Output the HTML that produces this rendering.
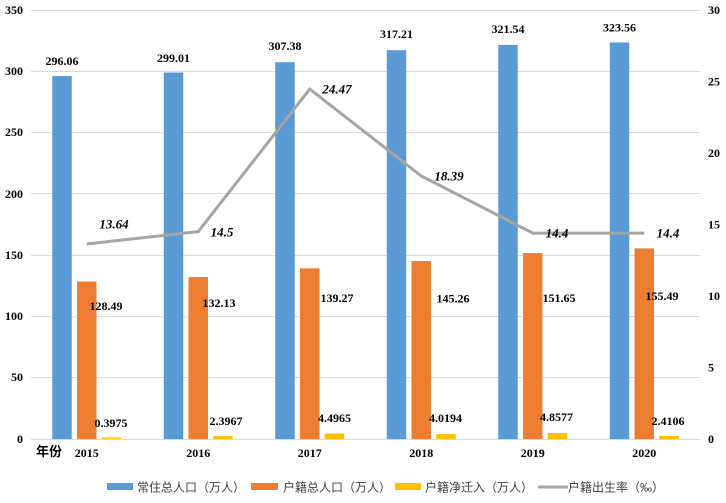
<!DOCTYPE html>
<html><head><meta charset="utf-8"><style>
html,body{margin:0;padding:0;background:#fff;}
svg{display:block;}
.n{font-family:"Liberation Serif",serif;font-weight:bold;font-size:12px;fill:#000;}
.it{font-family:"Liberation Serif",serif;font-weight:bold;font-style:italic;font-size:13px;fill:#000;}
.lg{font-family:"Liberation Sans","Noto Sans CJK SC",sans-serif;font-size:12px;fill:#404040;}
</style></head><body>
<svg width="726" height="503" viewBox="0 0 726 503" xmlns="http://www.w3.org/2000/svg">
<rect width="726" height="503" fill="#fff"/>
<g stroke="#d9d9d9" stroke-width="1">
<line x1="31" x2="700" y1="10.5" y2="10.5"/>
<line x1="31" x2="700" y1="71.5" y2="71.5"/>
<line x1="31" x2="700" y1="132.5" y2="132.5"/>
<line x1="31" x2="700" y1="193.5" y2="193.5"/>
<line x1="31" x2="700" y1="255.5" y2="255.5"/>
<line x1="31" x2="700" y1="316.5" y2="316.5"/>
<line x1="31" x2="700" y1="377.5" y2="377.5"/>
<line x1="31" x2="700" y1="439.5" y2="439.5"/>
</g>
<g class="n" text-anchor="end">
<text x="23" y="14">350</text>
<text x="23" y="75">300</text>
<text x="23" y="136">250</text>
<text x="23" y="198">200</text>
<text x="23" y="259">150</text>
<text x="23" y="320">100</text>
<text x="23" y="381">50</text>
<text x="23" y="443">0</text>
</g>
<g class="n">
<text x="708" y="14">30</text>
<text x="708" y="85.5">25</text>
<text x="708" y="157">20</text>
<text x="708" y="228.5">15</text>
<text x="708" y="300">10</text>
<text x="708" y="371.5">5</text>
<text x="708" y="443">0</text>
</g>
<g fill="#5b9bd5">
<rect x="52.25" y="76.1" width="19.5" height="362.9"/>
<rect x="163.75" y="72.5" width="19.5" height="366.5"/>
<rect x="275.25" y="62.2" width="19.5" height="376.8"/>
<rect x="386.75" y="50.2" width="19.5" height="388.8"/>
<rect x="498.25" y="44.9" width="19.5" height="394.1"/>
<rect x="609.75" y="42.4" width="19.5" height="396.6"/>
</g>
<g fill="#ed7d31">
<rect x="77" y="281.5" width="19.5" height="157.5"/>
<rect x="188.5" y="277" width="19.5" height="162"/>
<rect x="300" y="268.3" width="19.5" height="170.7"/>
<rect x="411.5" y="261" width="19.5" height="178"/>
<rect x="523" y="253.1" width="19.5" height="185.9"/>
<rect x="634.5" y="248.4" width="19.5" height="190.6"/>
</g>
<g fill="#ffc000">
<rect x="101.75" y="437.5" width="19.5" height="1.5"/>
<rect x="213.25" y="436.1" width="19.5" height="2.9"/>
<rect x="324.75" y="433.5" width="19.5" height="5.5"/>
<rect x="436.25" y="434.1" width="19.5" height="4.9"/>
<rect x="547.75" y="433" width="19.5" height="6"/>
<rect x="659.25" y="436" width="19.5" height="3"/>
</g>
<polyline points="86.75,244 198.25,231.6 309.75,89.1 421.25,176 532.75,233.1 644.25,233.1" fill="none" stroke="#a5a5a5" stroke-width="3" stroke-linejoin="miter"/>
<g class="n" text-anchor="middle">
<text x="62" y="65">296.06</text>
<text x="173.5" y="62">299.01</text>
<text x="285" y="50">307.38</text>
<text x="396.5" y="38">317.21</text>
<text x="508" y="33">321.54</text>
<text x="619.5" y="31.5">323.56</text>
<text x="106" y="310">128.49</text>
<text x="219" y="307">132.13</text>
<text x="337" y="302">139.27</text>
<text x="453" y="302.5">145.26</text>
<text x="559" y="302">151.65</text>
<text x="662" y="300">155.49</text>
<text x="111" y="427">0.3975</text>
<text x="226" y="425">2.3967</text>
<text x="334.5" y="422">4.4965</text>
<text x="445.5" y="422">4.0194</text>
<text x="556.5" y="421">4.8577</text>
<text x="668" y="425">2.4106</text>
<text x="86.75" y="457">2015</text>
<text x="198.25" y="457">2016</text>
<text x="309.75" y="457">2017</text>
<text x="421.25" y="457">2018</text>
<text x="532.75" y="457">2019</text>
<text x="644.25" y="457">2020</text>
</g>
<g class="it" text-anchor="middle">
<text x="114" y="228.5">13.64</text>
<text x="222" y="236.5">14.5</text>
<text x="337" y="93.5">24.47</text>
<text x="449" y="180.5">18.39</text>
<text x="557" y="237.5">14.4</text>
<text x="668" y="237.5">14.4</text>
</g>
<text x="36" y="456" style="font-family:'Liberation Sans','Noto Sans CJK SC',sans-serif;font-weight:bold;font-size:13px;fill:#000;">年份</text>
<rect x="107" y="483" width="26" height="7" fill="#5b9bd5"/>
<text class="lg" x="137" y="491.5">常住总人口（万人）</text>
<rect x="251" y="483" width="27" height="7" fill="#ed7d31"/>
<text class="lg" x="283" y="491.5">户籍总人口（万人）</text>
<rect x="395" y="483" width="26" height="7" fill="#ffc000"/>
<text class="lg" x="425" y="491.5">户籍净迁入（万人）</text>
<line x1="538" x2="568" y1="487" y2="487" stroke="#a5a5a5" stroke-width="3"/>
<text class="lg" x="568" y="491.5">户籍出生率（‰）</text>
</svg>
</body></html>
